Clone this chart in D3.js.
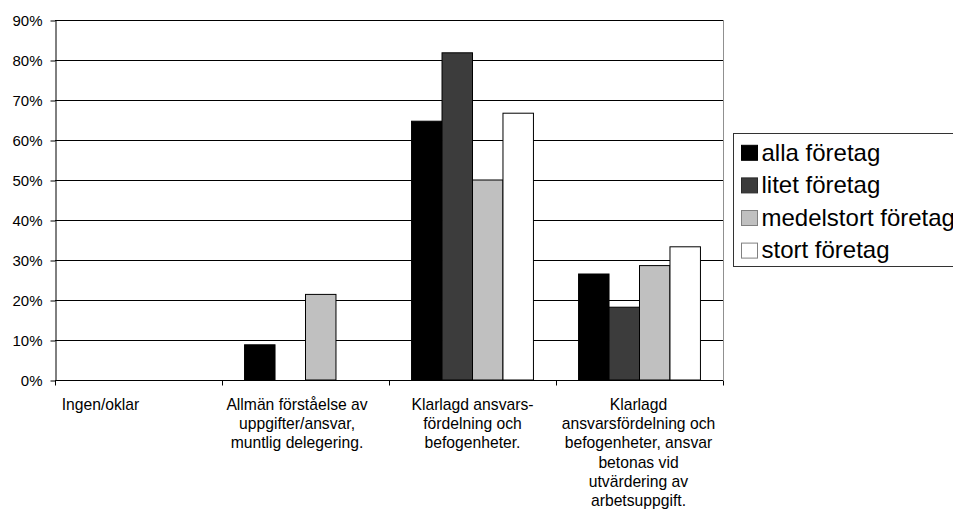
<!DOCTYPE html>
<html>
<head>
<meta charset="utf-8">
<script src="https://cdn.jsdelivr.net/npm/d3@7/dist/d3.min.js"></script>
<style>
  html, body { margin: 0; padding: 0; background: #fff; }
  svg { display: block; font-family: "Liberation Sans", Arial, Helvetica, sans-serif; }
</style>
</head>
<body>
<svg id="chart" width="953" height="511"></svg>
<script>
// ---- data ----
const categories = ["Ingen/oklar", "Allmän förståelse", "Klarlagd ansvarsfördelning", "Klarlagd ansvar betonas"];
const categoryLabels = [
  ["Ingen/oklar"],
  ["Allmän förståelse av", "uppgifter/ansvar,", "muntlig delegering."],
  ["Klarlagd ansvars-", "fördelning och", "befogenheter."],
  ["Klarlagd", "ansvarsfördelning och", "befogenheter, ansvar", "betonas vid", "utvärdering av", "arbetsuppgift."]
];
const seriesNames = ["alla företag", "litet företag", "medelstort företag", "stort företag"];
const allaForetag = [0, 0.088, 0.647, 0.265];
const litetForetag = [0, 0, 0.818, 0.182];
const medelstortForetag = [0, 0.214, 0.500, 0.286];
const stortForetag = [0, 0, 0.667, 0.333];
const yTicks = [0, 0.1, 0.2, 0.3, 0.4, 0.5, 0.6, 0.7, 0.8, 0.9];

// ---- styles / layout ----
const seriesValues = [allaForetag, litetForetag, medelstortForetag, stortForetag];
const fills = ["#000000", "#3c3c3c", "#c0c0c0", "#ffffff"];
const swatchStroke = ["#000000", "#2a2a2a", "#808080", "#808080"];
const labelShift = [-38, -8.5, 0, -1];

const plot = { left: 55, right: 723, top: 20, bottom: 380 };
const svg = d3.select("#chart");

const y = d3.scaleLinear().domain([0, 0.9]).range([plot.bottom, plot.top]);
const x0 = d3.scaleBand().domain(categories).range([plot.left, plot.right]).padding(0);
const x1 = d3.scaleBand().domain(seriesNames).range([0, x0.bandwidth()]).paddingInner(0).paddingOuter(0.74);

// gridlines
svg.append("g").selectAll("line")
  .data(yTicks.filter(d => d > 0))
  .join("line")
  .attr("x1", plot.left).attr("x2", plot.right)
  .attr("y1", d => Math.round(y(d)) + 0.5).attr("y2", d => Math.round(y(d)) + 0.5)
  .attr("stroke", "#000").attr("stroke-width", 1);

// right border
svg.append("line")
  .attr("x1", plot.right + 0.5).attr("x2", plot.right + 0.5)
  .attr("y1", plot.top).attr("y2", plot.bottom)
  .attr("stroke", "#909090");

// bars
const rows = [];
categories.forEach((c, ci) => {
  seriesNames.forEach((s, si) => {
    rows.push({ c, s, si, v: seriesValues[si][ci] });
  });
});
svg.append("g").selectAll("rect")
  .data(rows.filter(d => d.v > 0))
  .join("rect")
  .attr("x", d => x0(d.c) + x1(d.s))
  .attr("y", d => y(d.v))
  .attr("width", x1.bandwidth())
  .attr("height", d => y(0) - y(d.v))
  .attr("fill", d => fills[d.si])
  .attr("stroke", "#000")
  .attr("stroke-width", 1);

// y axis
const yAxis = d3.axisLeft(y)
  .tickValues(yTicks)
  .tickFormat(d3.format(".0%"))
  .tickSize(5)
  .tickSizeOuter(0)
  .tickPadding(8);
const yg = svg.append("g")
  .attr("transform", `translate(${plot.left + 0.5},0.5)`)
  .call(yAxis);
yg.select(".domain").attr("stroke", "#000");
yg.selectAll(".tick line").attr("stroke", "#000");
yg.selectAll(".tick text")
  .attr("fill", "#000")
  .attr("font-size", "15px")
  .attr("font-family", "'Liberation Sans', Arial, Helvetica, sans-serif");

// x axis
const xg = svg.append("g").attr("transform", `translate(0,${plot.bottom + 0.5})`);
xg.append("line")
  .attr("x1", plot.left).attr("x2", plot.right)
  .attr("stroke", "#000");
const boundaries = categories.map(c => x0(c)).concat([x0(categories[categories.length - 1]) + x0.bandwidth()]);
xg.selectAll("line.tick")
  .data(boundaries)
  .join("line")
  .attr("class", "tick")
  .attr("x1", d => Math.round(d) + 0.5).attr("x2", d => Math.round(d) + 0.5)
  .attr("y1", 0).attr("y2", 5)
  .attr("stroke", "#000");

// category labels
const lab = svg.append("g");
categories.forEach((c, ci) => {
  const cx = x0(c) + x0.bandwidth() / 2 + labelShift[ci];
  const t = lab.append("text")
    .attr("x", cx).attr("y", 410)
    .attr("text-anchor", "middle")
    .attr("font-size", "15.7px")
    .attr("fill", "#000");
  categoryLabels[ci].forEach((line, li) => {
    t.append("tspan").attr("x", cx).attr("y", 410 + li * 19.2).text(line);
  });
});

// legend
const lg = svg.append("g");
lg.append("rect")
  .attr("x", 733.5).attr("y", 133.5)
  .attr("width", 240).attr("height", 133)
  .attr("fill", "#fff").attr("stroke", "#333").attr("stroke-width", 1);
const items = lg.selectAll("g.item")
  .data(seriesNames)
  .join("g")
  .attr("class", "item")
  .attr("transform", (d, i) => `translate(0,${152.8 + i * 32.6})`);
items.append("rect")
  .attr("x", 741.5).attr("y", -7.5)
  .attr("width", 16).attr("height", 15)
  .attr("fill", (d, i) => fills[i])
  .attr("stroke", (d, i) => swatchStroke[i]);
items.append("text")
  .attr("x", 761.5).attr("y", 7.8)
  .attr("font-size", "24px")
  .attr("fill", "#000")
  .text(d => d);
</script>
</body>
</html>
